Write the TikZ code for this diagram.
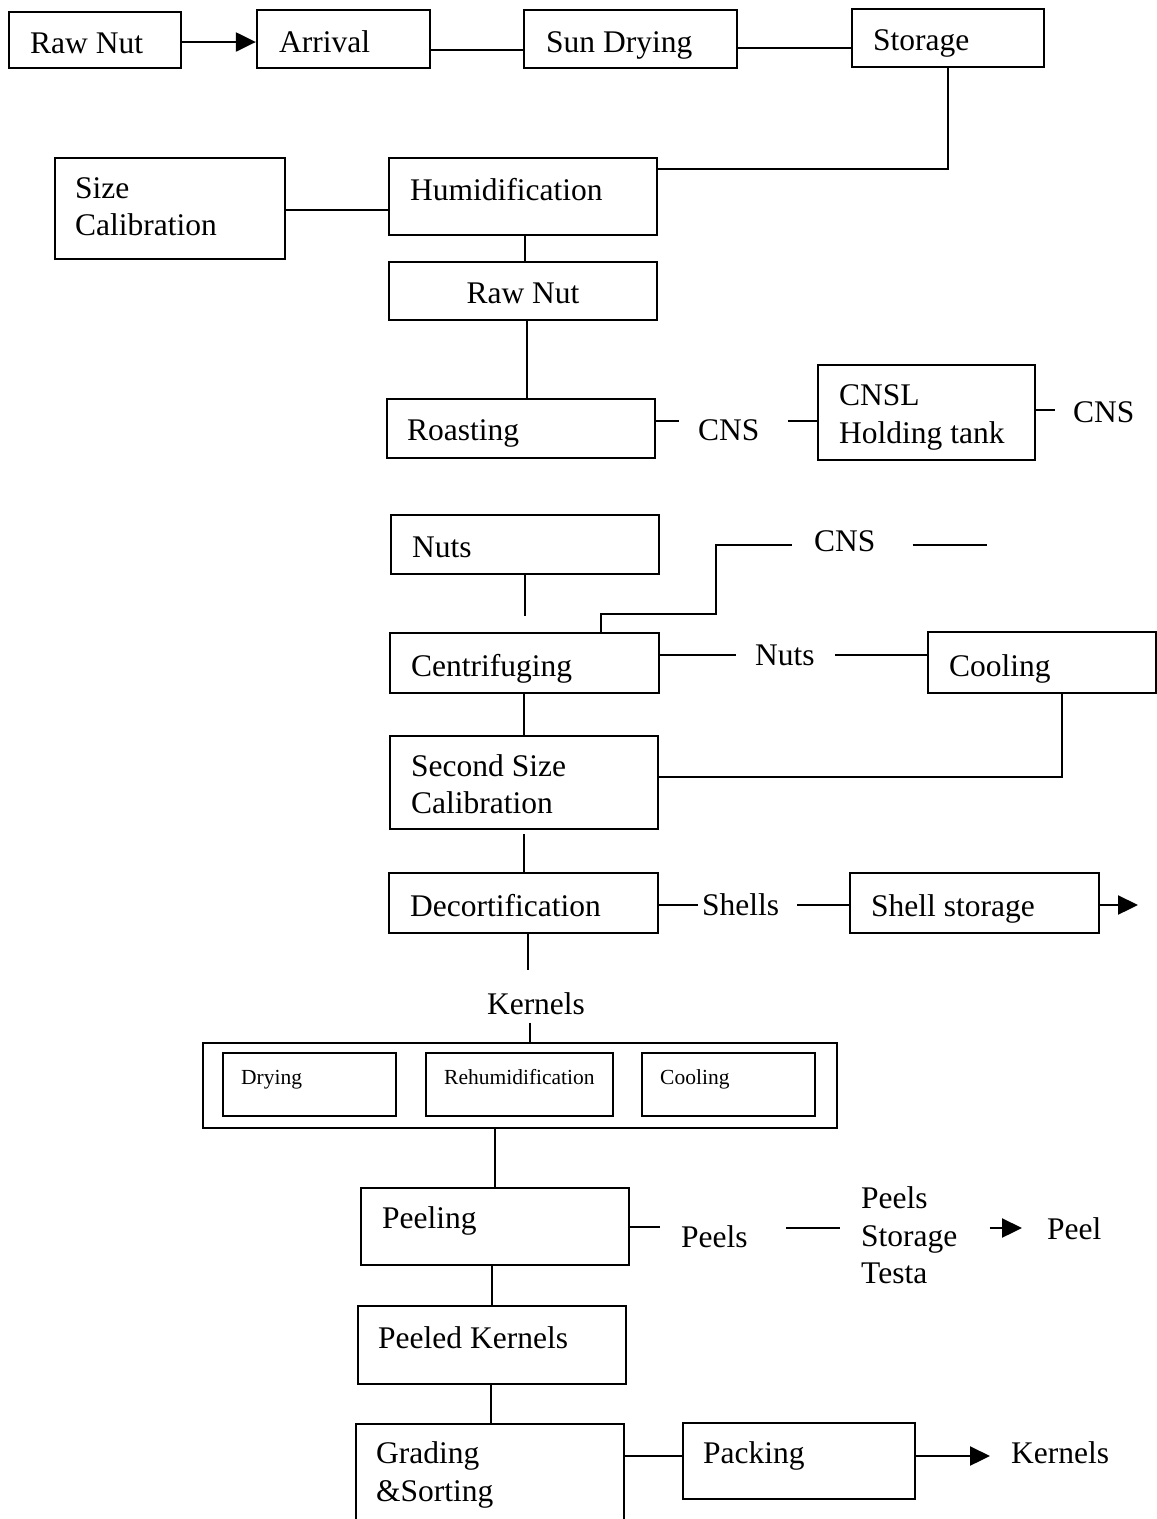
\documentclass[tikz,border=0pt]{standalone}
\usepackage{fontspec}
\setmainfont{Liberation Serif}
\usetikzlibrary{arrows.meta,fit}
\begin{document}
\begin{tikzpicture}[x=1pt,y=-1pt,
  box/.style={draw, line width=2.3pt, inner sep=0pt},
  txt/.style={anchor=base west, inner sep=0pt, font=\fontsize{31.5}{37}\selectfont},
  ctxt/.style={anchor=base, inner sep=0pt, font=\fontsize{31.5}{37}\selectfont},
  small/.style={anchor=base west, inner sep=0pt, font=\fontsize{21.5}{25}\selectfont},
  ln/.style={line width=2.3pt},
  arr/.style={line width=2.3pt, -{Triangle[length=20pt,width=19pt]}}]
\useasboundingbox (0,0) rectangle (1157,1519);
\clip (0,0) rectangle (1157,1519);

% boxes
\node[box, fit={(9,12) (181,68)}] (rawnut) {};
\node[box, fit={(257,10) (430,68)}] (arrival) {};
\node[box, fit={(524,10) (737,68)}] (sun) {};
\node[box, fit={(852,9) (1044,67)}] (storage) {};
\node[box, fit={(55,158) (285,259)}] (sizecal) {};
\node[box, fit={(389,158) (657,235)}] (hum) {};
\node[box, fit={(389,262) (657,320)}] (rawnut2) {};
\node[box, fit={(387,399) (655,458)}] (roast) {};
\node[box, fit={(818,365) (1035,460)}] (cnsl) {};
\node[box, fit={(391,515) (659,574)}] (nuts) {};
\node[box, fit={(390,633) (659,693)}] (cent) {};
\node[box, fit={(928,632) (1156,693)}] (cool) {};
\node[box, fit={(390,736) (658,829)}] (ssc) {};
\node[box, fit={(389,873) (658,933)}] (dec) {};
\node[box, fit={(850,873) (1099,933)}] (shst) {};
\node[box, fit={(203,1043) (837,1128)}] (outer) {};
\node[box, fit={(223,1053) (396,1116)}] (dry) {};
\node[box, fit={(426,1053) (613,1116)}] (rehum) {};
\node[box, fit={(642,1053) (815,1116)}] (cool2) {};
\node[box, fit={(361,1188) (629,1265)}] (peel) {};
\node[box, fit={(358,1306) (626,1384)}] (peeled) {};
\node[box, fit={(356,1424) (624,1560)}] (grad) {};
\node[box, fit={(683,1423) (915,1499)}] (pack) {};

% texts
\node[txt] (t-rawnut) at (30,53) {Raw Nut};
\node[txt] (t-arrival) at (279,52) {Arrival};
\node[txt] (t-sun) at (546,52) {Sun Drying};
\node[txt] (t-storage) at (873,50) {Storage};
\node[txt] (t-size1) at (75,198) {Size};
\node[txt] (t-size2) at (75,235) {Calibration};
\node[txt] (t-hum) at (410,200) {Humidification};
\node[ctxt] (t-rawnut2) at (523,303) {Raw Nut};
\node[txt] (t-roast) at (407,440) {Roasting};
\node[txt] (cns1) at (698,440) {CNS};
\node[txt] (t-cnsl1) at (839,405) {CNSL};
\node[txt] (t-cnsl2) at (839,443) {Holding tank};
\node[txt] (cns2) at (1073,422) {CNS};
\node[txt] (t-nuts) at (412,557) {Nuts};
\node[txt] (cns3) at (814,551) {CNS};
\node[txt] (t-cent) at (411,676) {Centrifuging};
\node[txt] (nutsl) at (755,665) {Nuts};
\node[txt] (t-cool) at (949,676) {Cooling};
\node[txt] (t-ssc1) at (411,776) {Second Size};
\node[txt] (t-ssc2) at (411,813) {Calibration};
\node[txt] (t-dec) at (410,916) {Decortification};
\node[txt] (shells) at (702,915) {Shells};
\node[txt] (t-shst) at (871,916) {Shell storage};
\node[ctxt] (kern1) at (536,1014) {Kernels};
\node[small] (t-dry) at (241,1084) {Drying};
\node[small] (t-rehum) at (444,1084) {Rehumidification};
\node[small] (t-cool2) at (660,1084) {Cooling};
\node[txt] (t-peel) at (382,1228) {Peeling};
\node[txt] (peels) at (681,1247) {Peels};
\node[txt] (pst1) at (861,1208) {Peels};
\node[txt] (pst) at (861,1246) {Storage};
\node[txt] (pst3) at (861,1283) {Testa};
\node[txt] (peel1) at (1047,1239) {Peel};
\node[txt] (t-peeled) at (378,1348) {Peeled Kernels};
\node[txt] (t-grad1) at (376,1463) {Grading};
\node[txt] (t-grad2) at (376,1501) {\&Sorting};
\node[txt] (t-pack) at (703,1463) {Packing};
\node[txt] (kern2) at (1011,1463) {Kernels};

\coordinate (cnsend) at (987,545);
\coordinate (shend) at (1138,905);

% connectors
\draw[arr] (rawnut.east |- 0,42) -- (arrival.west |- 0,42);
\draw[ln] (arrival.east |- 0,50) -- (sun.west |- 0,50);
\draw[ln] (sun.east |- 0,48) -- (storage.west |- 0,48);
\draw[ln] (storage.south -| 948,0) -- (948,169) -- (hum.east |- 0,169);
\draw[ln] (sizecal.east |- 0,210) -- (hum.west |- 0,210);
\draw[ln] (hum.south -| 525,0) -- (rawnut2.north -| 525,0);
\draw[ln] (rawnut2.south -| 527,0) -- (roast.north -| 527,0);
\draw[ln, shorten >=19pt] (roast.east |- 0,421) -- (cns1.west |- 0,421);
\draw[ln, shorten <=28pt] (cns1.east |- 0,421) -- (cnsl.west |- 0,421);
\draw[ln, shorten >=18pt] (cnsl.east |- 0,410) -- (cns2.west |- 0,410);
\draw[ln, shorten >=16pt] (nuts.south -| 525,0) -- (cent.north -| 525,0);
\draw[ln, shorten >=22pt] (cent.north -| 601,0) -- (601,614) -- (716,614) -- (716,545) -- (cns3.west |- 0,545);
\draw[ln, shorten <=37pt] (cns3.east |- cnsend) -- (cnsend);
\draw[ln, shorten >=19pt] (cent.east |- 0,655) -- (nutsl.west |- 0,655);
\draw[ln, shorten <=20pt] (nutsl.east |- 0,655) -- (cool.west |- 0,655);
\draw[ln] (cool.south -| 1062,0) -- (1062,777) -- (ssc.east |- 0,777);
\draw[ln] (cent.south -| 524,0) -- (ssc.north -| 524,0);
\draw[ln, shorten <=4pt] (ssc.south -| 524,0) -- (dec.north -| 524,0);
\draw[ln, shorten >=4pt] (dec.east |- 0,905) -- (shells.west |- 0,905);
\draw[ln, shorten <=18pt] (shells.east |- 0,905) -- (shst.west |- 0,905);
\draw[arr] (shst.east |- shend) -- (shend);
\draw[ln, shorten >=22pt] (dec.south -| 528,0) -- (kern1.north -| 528,0);
\draw[ln, shorten <=8pt] (kern1.south -| 530,0) -- (outer.north -| 530,0);
\draw[ln] (outer.south -| 495,0) -- (peel.north -| 495,0);
\draw[ln, shorten >=21pt] (peel.east |- 0,1227) -- (peels.west |- 0,1227);
\draw[ln, shorten <=38pt, shorten >=21pt] (peels.east |- 0,1228) -- (pst.west |- 0,1228);
\draw[arr, shorten <=32pt, shorten >=25pt] (pst.east |- 0,1228) -- (peel1.west |- 0,1228);
\draw[ln] (peel.south -| 492,0) -- (peeled.north -| 492,0);
\draw[ln] (peeled.south -| 491,0) -- (grad.north -| 491,0);
\draw[ln] (grad.east |- 0,1456) -- (pack.west |- 0,1456);
\draw[arr, shorten >=21pt] (pack.east |- 0,1456) -- (kern2.west |- 0,1456);
\end{tikzpicture}
\end{document}
